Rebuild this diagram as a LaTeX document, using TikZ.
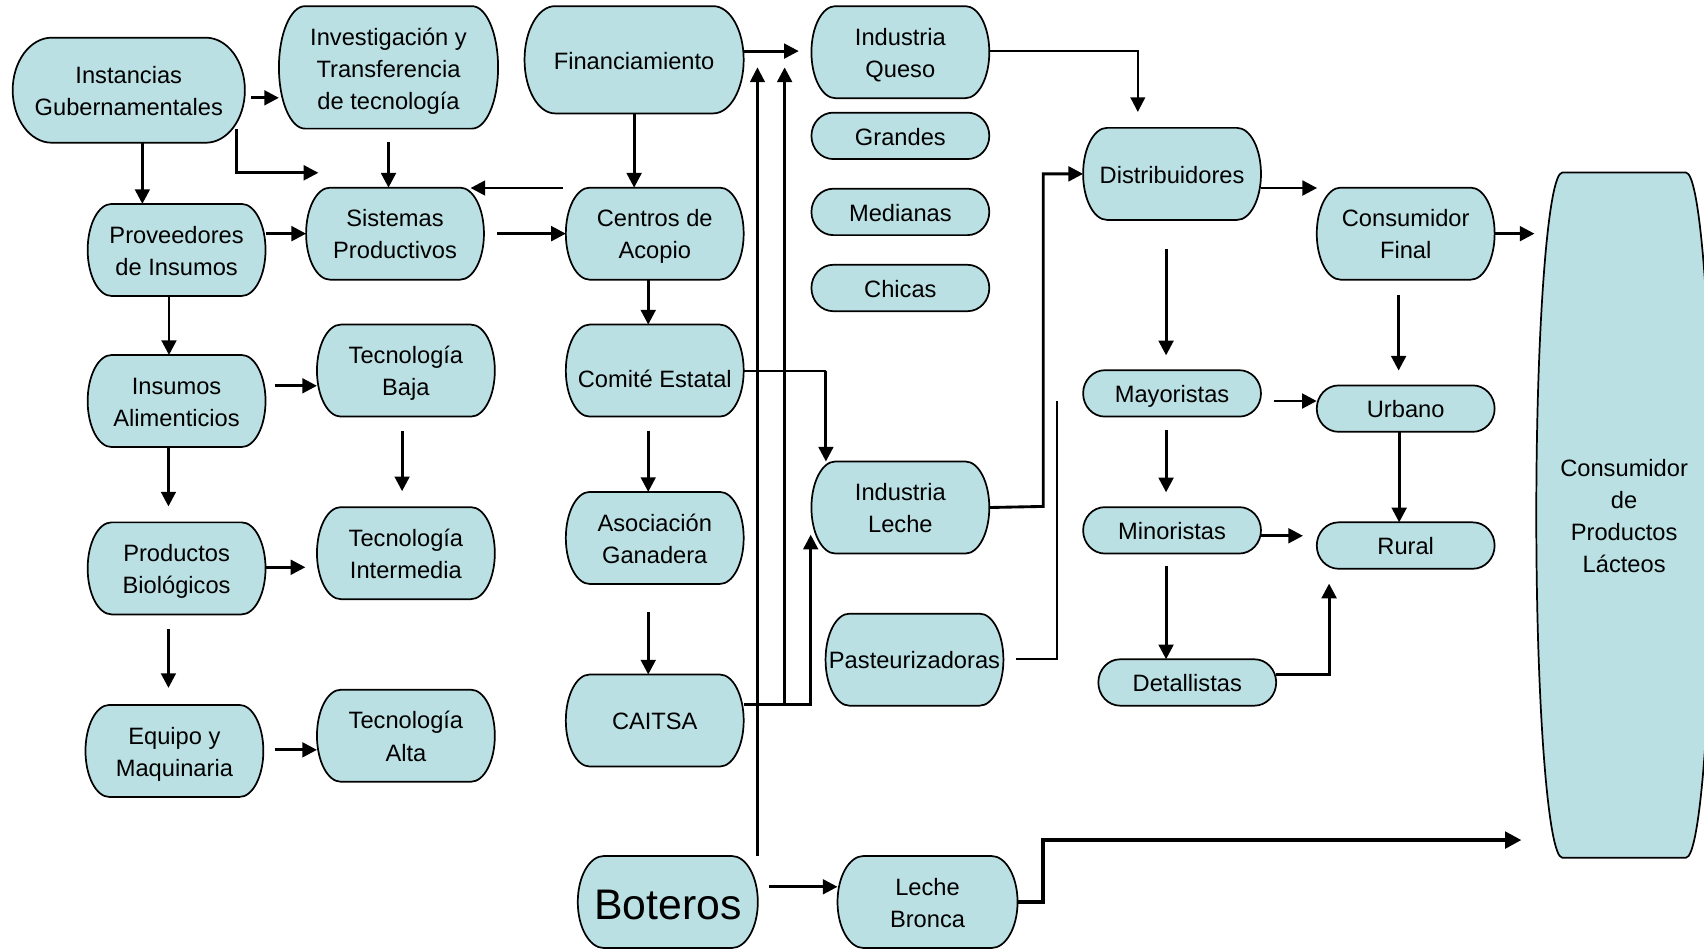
\documentclass[tikz,border=0pt]{standalone}
\usepackage{fontspec}
\setmainfont{Liberation Sans}
\usetikzlibrary{arrows.meta,calc}
\pgfdeclarelayer{background}
\pgfsetlayers{background,main}
\definecolor{boxcol}{RGB}{186,224,227}
\newcommand\tx[2][1.5pt]{\raisebox{-#1}[\height][\depth]{\begin{tabular}{@{}c@{}}#2\end{tabular}}}
\begin{document}
\begin{tikzpicture}[x=0.02cm,y=-0.02cm,
  box/.style={shape=rectangle,inner sep=0pt,
    minimum width=3.26cm,minimum height=1.68cm,
    font=\fontsize{12.4}{16.8}\selectfont},
  pillbox/.style={box,minimum height=0.84cm},
  pill/.style={draw=black,line width=0.9pt,fill=boxcol},
  arr/.style={line width=1.5pt,-{Triangle[length=0.27cm,width=0.27cm]}},
  thinarr/.style={line width=1.1pt,-{Triangle[length=0.27cm,width=0.27cm]}},
  thickarr/.style={line width=2.1pt,-{Triangle[length=0.3cm,width=0.3cm]}},
  thinline/.style={line width=1.1pt},
  line join=miter]
\useasboundingbox (0,0) rectangle (1568,873);

% ---------- nodes ----------
\node[box,minimum width=4.26cm,minimum height=1.92cm] (ig) at (118.5,83) {\tx{Instancias\\Gubernamentales}};
\node[box,minimum width=4.02cm,minimum height=2.24cm] (inv) at (357.5,62) {\tx[1.9pt]{Investigación y\\Transferencia\\de tecnología}};
\node[box,minimum width=4.02cm,minimum height=1.96cm] (fin) at (583.5,55) {\tx{Financiamiento}};
\node[box] (iq) at (828.5,48) {\tx{Industria\\Queso}};
\node[pillbox] (gr) at (828.5,125) {\tx{Grandes}};
\node[pillbox] (me) at (828.5,195) {\tx{Medianas}};
\node[pillbox] (ch) at (828.5,265) {\tx{Chicas}};
\node[box] (prov) at (162.5,230) {\tx{Proveedores\\de Insumos}};
\node[box] (sis) at (363.5,215) {\tx{Sistemas\\Productivos}};
\node[box] (cen) at (602.5,215) {\tx{Centros de\\Acopio}};
\node[box] (dis) at (1078.5,160) {\tx{Distribuidores}};
\node[box] (cf) at (1293.5,215) {\tx{Consumidor\\Final}};
\node[box,minimum width=3.22cm,minimum height=12.6cm] (clp) at (1494.5,474) {\tx{Consumidor\\de\\Productos\\Lácteos}};
\node[box] (com) at (602.5,341) {\tx[5.6pt]{Comité Estatal}};
\node[box] (tb) at (373.5,341) {\tx{Tecnología\\Baja}};
\node[box] (ins) at (162.5,369) {\tx{Insumos\\Alimenticios}};
\node[box] (aso) at (602.5,495) {\tx{Asociación\\Ganadera}};
\node[box] (il) at (828.5,467) {\tx{Industria\\Leche}};
\node[box] (pas) at (841.5,607) {\tx{Pasteurizadoras}};
\node[pillbox] (may) at (1078.5,362) {\tx{Mayoristas}};
\node[pillbox] (urb) at (1293.5,376) {\tx{Urbano}};
\node[pillbox] (min) at (1078.5,488) {\tx{Minoristas}};
\node[pillbox] (rur) at (1293.5,502) {\tx{Rural}};
\node[pillbox] (det) at (1092.5,628) {\tx{Detallistas}};
\node[box] (prod) at (162.5,523) {\tx{Productos\\Biológicos}};
\node[box] (ti) at (373.5,509) {\tx{Tecnología\\Intermedia}};
\node[box] (eq) at (160.5,691) {\tx{Equipo y\\Maquinaria}};
\node[box] (ta) at (373.5,677) {\tx{Tecnología\\Alta}};
\node[box] (cai) at (602.5,663) {\tx{CAITSA}};
\node[box,minimum width=3.3cm,font=\fontsize{22.4}{26}\selectfont] (bot) at (614.5,830) {\tx[4pt]{Boteros}};
\node[box,minimum width=3.3cm] (lb) at (853.5,830) {\tx{Leche\\Bronca}};

% ---------- node outlines (background) ----------
\begin{pgfonlayer}{background}
\clip (0,0) rectangle (1568,873);
\foreach \nm/\rr in {ig/36,inv/24,fin/28,iq/22,gr/20,me/20,ch/20,prov/22,sis/22,cen/22,
  dis/22,cf/22,clp/24,com/22,tb/22,ins/22,aso/22,il/22,pas/22,may/20,urb/20,min/20,
  rur/20,det/20,prod/22,ti/22,eq/22,ta/22,cai/22,bot/24,lb/24} {
  \path[pill] let \p1=(\nm.north east), \p2=(\nm.south west) in
    (\x2+\rr*0.02cm,\y1) -- (\x1-\rr*0.02cm,\y1)
    arc[start angle=90,end angle=-90,x radius=\rr*0.02cm,y radius={(\y1-\y2)/2}]
    -- (\x2+\rr*0.02cm,\y2)
    arc[start angle=270,end angle=90,x radius=\rr*0.02cm,y radius={(\y1-\y2)/2}]
    -- cycle;
}
\end{pgfonlayer}

% ---------- free / bend coordinates ----------
\coordinate (a1) at (231,90);
\coordinate (a2) at (131,131);
\coordinate (a3) at (218,119);
\coordinate (a3e) at (293,159);
\coordinate (a5) at (518,173);
\coordinate (a5e) at (433,173);
\coordinate (a8) at (735,47);
\coordinate (v1top) at (697,62);
\coordinate (v2top) at (722,62);
\coordinate (v2bot) at (722,648);
\coordinate (c12) at (746,648);
\coordinate (c12e) at (746,492);
\coordinate (c13) at (760,341);
\coordinate (c17) at (1047,47);
\coordinate (c17e) at (1047,103);
\coordinate (c18) at (960,466);
\coordinate (c19s) at (935,606);
\coordinate (c19) at (973,606);
\coordinate (c19e) at (973,369);
\coordinate (c20) at (1212,173);
\coordinate (c21) at (1412,215);
\coordinate (c22s) at (1073,229);
\coordinate (c22e) at (1073,327);
\coordinate (c23s) at (1287,271);
\coordinate (c23e) at (1287,341);
\coordinate (c24) at (1172,369);
\coordinate (c25s) at (1073,396);
\coordinate (c25e) at (1073,453);
\coordinate (c27) at (1199,493);
\coordinate (c28s) at (1073,521);
\coordinate (c29) at (1223,621);
\coordinate (c29e) at (1223,537);
\coordinate (c30) at (708,816);
\coordinate (c31) at (960,830);
\coordinate (c31b) at (960,773);
\coordinate (c31e) at (1400,773);
\coordinate (c33) at (155,466);
\coordinate (c34s) at (155,579);
\coordinate (c34e) at (155,633);
\coordinate (c35) at (253,355);
\coordinate (c36) at (281,522);
\coordinate (c37) at (253,690);
\coordinate (c38s) at (370,397);
\coordinate (c38e) at (370,452);

% ---------- connectors ----------
\draw[arr] (a1) -- (inv.west |- a1);
\draw[arr] (a2) -- (a2 |- prov.north);
\draw[arr] (a3) |- (a3e);
\draw[arr] ($(inv.south)+(0,12)$) -- (inv.south |- sis.north);
\draw[arr] (a5) -- (a5e);
\draw[arr] (prov.east |- sis.west) -- (sis.west);
\draw[arr] ($(sis.east)+(12,0)$) -- (cen.west);
\draw[arr] (fin.east |- a8) -- (a8);
\draw[arr] (fin.south) -- (fin.south |- cen.north);
\draw[thinarr] (bot.north -| v1top) -- (v1top);
\draw[arr] (v2bot) -- (v2top);
\draw[arr] (cai.east |- c12) -- (c12) -- (c12e);
\draw[thinline] (com.east) -- (c13);
\draw[arr] (c13) -- (c13 |- il.north);
\draw[arr] ($(cen.south)+(-6,0)$) -- ($(com.north)+(-6,0)$);
\draw[arr] ($(com.south)+(-6,13)$) -- ($(aso.north)+(-6,0)$);
\draw[arr] ($(aso.south)+(-6,26)$) -- ($(cai.north)+(-6,0)$);
\draw[thinarr] (iq.east |- c17) -- (c17) -- (c17e);
\draw[arr] (il.east) -- (c18) |- (dis.west);
\draw[thinline] (c19s) -- (c19) -- (c19e);
\draw[arr] (dis.east |- c20) -- (c20);
\draw[arr] (cf.east) -- (c21);
\draw[arr] (c22s) -- (c22e);
\draw[arr] (c23s) -- (c23e);
\draw[arr] (c24) -- (urb.west |- c24);
\draw[arr] (c25s) -- (c25e);
\draw[arr] ($(urb.south)+(-6,0)$) -- ($(rur.north)+(-6,0)$);
\draw[arr] (min.east |- c27) -- (c27);
\draw[arr] (c28s) -- (c28s |- det.north);
\draw[arr] (det.east |- c29) -- (c29) -- (c29e);
\draw[arr] (c30) -- (lb.west |- c30);
\draw[thickarr] (lb.east) -- (c31) -- (c31b) -- (c31e);
\draw[arr] ($(prov.south)+(-7,0)$) -- ($(ins.north)+(-7,0)$);
\draw[arr] (ins.south -| c33) -- (c33);
\draw[arr] (c34s) -- (c34e);
\draw[arr] (c35) -- (tb.west |- c35);
\draw[arr] (prod.east |- c36) -- (c36);
\draw[arr] (c37) -- (ta.west |- c37);
\draw[arr] (c38s) -- (c38e);
\end{tikzpicture}
\end{document}
